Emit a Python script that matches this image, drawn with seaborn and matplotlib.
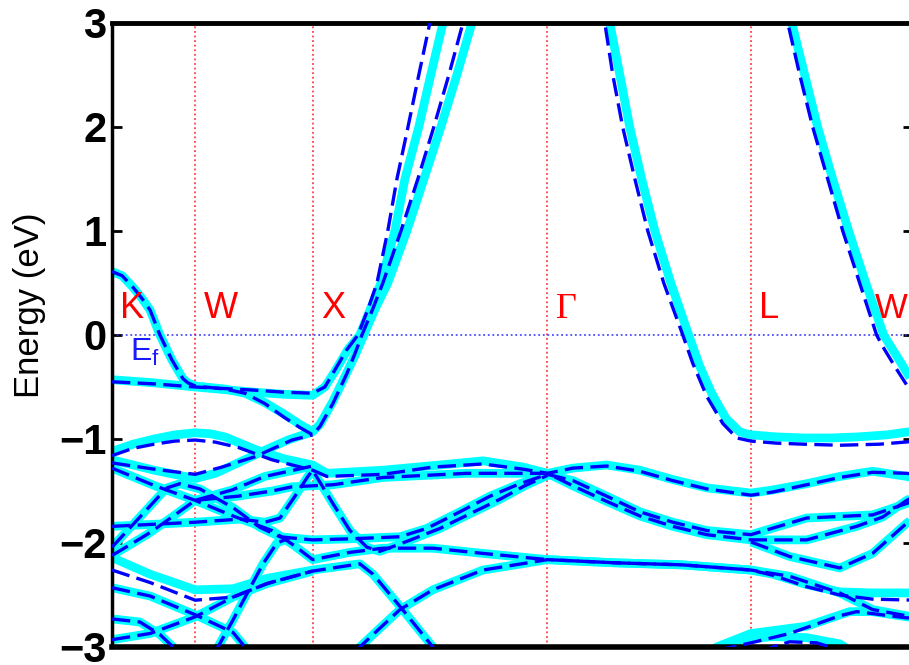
import matplotlib
matplotlib.use("Agg")
import matplotlib.pyplot as plt
import numpy as np
import pandas as pd
import seaborn as sns

sns.set_theme(style="white")
plt.rcParams['font.family'] = ['Liberation Sans', 'DejaVu Sans']

# ---------------- data ----------------
kpoint_names = ['K', 'W', 'X', 'Γ', 'L', 'W']
kpoint_pos = [0.0, 0.354, 0.854, 1.854, 2.720, 3.427]
energy_ticks = [-3, -2, -1, 0, 1, 2, 3]

# thick cyan bands (k in 2pi/a along path, E in eV)
cM_k = [0.000,0.043,0.089,0.128,0.162,0.204,0.255,0.302,0.323,0.354,0.481,0.566,0.651,0.732,0.800,0.854,0.885,0.940,1.000,1.040,1.072,1.120,1.174,1.255,1.328,1.400,1.468,1.532,1.553]
cM_E = [0.61,0.57,0.46,0.35,0.24,0.0,-0.24,-0.42,-0.46,-0.49,-0.52,-0.56,-0.65,-0.76,-0.86,-0.93,-0.86,-0.64,-0.36,-0.17,0.0,0.25,0.5,1.0,1.5,2.0,2.5,3.0,3.2]
cB_k = [0,0.179,0.354,0.604,0.732,0.854,0.906,0.949,1.004,1.055,1.100,1.145,1.204,1.247,1.306,1.357,1.409,1.426]
cB_E = [-0.43,-0.46,-0.50,-0.55,-0.57,-0.58,-0.50,-0.35,-0.14,0.0,0.25,0.5,1.0,1.5,2.0,2.5,3.0,3.2]
cGL_k = [2.102,2.119,2.162,2.204,2.255,2.311,2.379,2.455,2.502,2.553,2.613,2.672,2.700,2.720,2.830,2.945,3.060,3.174,3.300,3.427]
cGL_E = [3.2,3.0,2.5,2.0,1.5,1.0,0.5,0.0,-0.30,-0.56,-0.80,-0.93,-0.95,-0.96,-0.98,-0.99,-0.99,-0.98,-0.96,-0.92]
cLW_k = [2.885,2.894,2.949,3.004,3.068,3.136,3.209,3.285,3.340,3.400,3.427]
cLW_E = [3.2,3.0,2.5,2.0,1.5,1.0,0.5,0.0,-0.20,-0.42,-0.46]
cT_k = [0,0.089,0.179,0.268,0.354,0.420,0.481,0.609,0.732,0.854,0.915,1.153,1.396,1.579,1.749,1.854,1.962,2.106,2.247,2.387,2.532,2.720,2.813,2.957,3.098,3.238,3.383,3.427]
cT_E = [-1.12,-1.05,-1.00,-0.96,-0.94,-0.95,-0.98,-1.10,-1.19,-1.25,-1.33,-1.30,-1.25,-1.21,-1.27,-1.33,-1.28,-1.25,-1.30,-1.39,-1.47,-1.52,-1.49,-1.43,-1.36,-1.31,-1.36,-1.38]
cR_k = [0,0.179,0.354,0.440,0.536,0.649,0.749,0.854]
cR_E = [-1.20,-1.30,-1.38,-1.33,-1.23,-1.11,-1.01,-0.93]
D1_k = [0,0.183,0.354,0.515,0.681,0.779,0.854,1.013,1.153,1.366,1.579,1.854,2.136,2.426,2.720,2.813,2.957,3.098,3.238,3.427]
cD1_E = [-1.28,-1.45,-1.59,-1.74,-1.88,-2.03,-2.16,-2.09,-2.05,-2.05,-2.10,-2.16,-2.19,-2.21,-2.26,-2.30,-2.40,-2.47,-2.48,-2.48]
G2_k = [1.045,1.055,1.140,1.226,1.366,1.579,1.854,2.136,2.426,2.720,2.885,3.098,3.238,3.383,3.427]
G2_E = [-3.05,-3.0,-2.82,-2.64,-2.45,-2.26,-2.16,-2.19,-2.21,-2.26,-2.32,-2.48,-2.64,-2.70,-2.71]
Bot1_k = [0,0.162,0.354,0.515,0.660,0.854,1.055,1.111,1.226,1.366,1.383]
cBot1_E = [-2.14,-2.30,-2.45,-2.44,-2.34,-2.26,-2.20,-2.30,-2.61,-3.0,-3.05]
Bot2_k = [0,0.162,0.354,0.515,0.660,0.854]
Bot2_E = [-2.93,-2.87,-2.71,-2.52,-2.39,-2.27]
Bot3_k = [0,0.162,0.354,0.515,0.566,0.579]
Bot3_E = [-2.43,-2.51,-2.69,-2.86,-3.0,-3.05]
Bot4_k = [0,0.119,0.204,0.260,0.272]
Bot4_E = [-2.73,-2.76,-2.88,-3.0,-3.05]
Bot5_k = [0.438,0.451,0.515,0.574,0.643,0.702,0.757,0.854,1.013,1.226,1.340,1.481,1.609,1.736,1.854,1.962,2.106,2.247,2.387,2.532,2.720,2.957,3.238,3.383,3.427]
Bot5_E = [-3.05,-3.0,-2.74,-2.49,-2.20,-2.00,-1.95,-1.97,-1.96,-1.94,-1.86,-1.70,-1.55,-1.43,-1.34,-1.40,-1.55,-1.70,-1.80,-1.88,-1.92,-1.76,-1.73,-1.62,-1.59]
Q2_k = [0,0.119,0.196,0.234,0.289,0.374,0.515,0.630,0.715,0.757]
Q2_E = [-2.04,-1.75,-1.56,-1.47,-1.43,-1.48,-1.66,-1.85,-1.94,-1.95]
U_k = [0,0.089,0.162,0.268,0.354,0.536,0.681,0.766,0.854,0.940,1.153,1.511,1.854,1.962,2.106,2.247,2.387,2.532,2.720,2.957,3.170,3.281,3.383,3.427]
U_E = [-2.12,-2.00,-1.90,-1.73,-1.59,-1.55,-1.50,-1.46,-1.45,-1.44,-1.37,-1.33,-1.33,-1.45,-1.60,-1.74,-1.84,-1.92,-1.97,-1.97,-1.84,-1.75,-1.59,-1.54]
V_k = [0.354,0.511,0.651,0.854]
V_E = [-1.59,-1.49,-1.36,-1.26]
FQ_k = [0,0.179,0.354,0.545,0.651,0.715,0.779,0.834,0.854,0.940,1.013,1.085,1.140,1.226,1.396,1.523,1.651,1.757,1.854]
FQ_E = [-1.84,-1.82,-1.80,-1.77,-1.80,-1.76,-1.55,-1.36,-1.30,-1.62,-1.88,-2.04,-2.08,-2.01,-1.86,-1.72,-1.58,-1.45,-1.35]
Dip_k = [2.720,2.885,3.098,3.238,3.383,3.427]
Dip_E = [-1.99,-2.13,-2.24,-2.10,-1.81,-1.74]
cBLW_k = [2.545,2.574,2.720,2.957,3.140,3.238,3.383,3.427]
cBLW_E = [-3.05,-3.0,-2.87,-2.80,-2.66,-2.66,-2.71,-2.72]
cBump_k = [2.620,2.672,2.813,2.957,3.098,3.153]
cBump_E = [-3.05,-2.93,-2.90,-2.91,-2.97,-3.05]

# dashed blue bands
dM_k = [0,0.043,0.089,0.128,0.162,0.204,0.255,0.302,0.323,0.354,0.481,0.566,0.651,0.732,0.800,0.854,0.885,0.940,1.000,1.034,1.064,1.110,1.153,1.230,1.302,1.370,1.434,1.494,1.515]
dM_E = [0.61,0.57,0.46,0.35,0.24,0.0,-0.24,-0.42,-0.46,-0.49,-0.52,-0.56,-0.66,-0.79,-0.89,-0.96,-0.88,-0.66,-0.37,-0.18,0.0,0.25,0.5,1.0,1.5,2.0,2.5,3.0,3.2]
dB_k = [0,0.179,0.354,0.604,0.732,0.854,0.906,0.940,1.000,1.047,1.090,1.128,1.174,1.213,1.260,1.306,1.353,1.370]
dB_E = [-0.45,-0.47,-0.50,-0.53,-0.55,-0.56,-0.50,-0.37,-0.14,0.0,0.25,0.5,1.0,1.5,2.0,2.5,3.0,3.2]
dGL_k = [2.081,2.098,2.132,2.174,2.226,2.281,2.349,2.430,2.472,2.532,2.600,2.660,2.700,2.720,2.830,2.945,3.098,3.268,3.427]
dGL_E = [3.2,3.0,2.5,2.0,1.5,1.0,0.5,0.0,-0.27,-0.59,-0.85,-0.99,-1.01,-1.02,-1.04,-1.05,-1.06,-1.05,-1.02]
dLW_k = [2.868,2.877,2.928,2.983,3.047,3.111,3.183,3.255,3.281,3.332,3.383,3.427]
dLW_E = [3.2,3.0,2.5,2.0,1.5,1.0,0.5,0.0,-0.11,-0.30,-0.48,-0.52]
dT_k = [0,0.089,0.179,0.268,0.354,0.440,0.536,0.681,0.854,0.915,1.153,1.366,1.579,1.749,1.854,1.962,2.106,2.247,2.387,2.532,2.720,2.813,2.957,3.098,3.238,3.383,3.427]
dT_E = [-1.16,-1.09,-1.05,-1.02,-1.01,-1.03,-1.08,-1.20,-1.30,-1.36,-1.34,-1.27,-1.24,-1.29,-1.33,-1.28,-1.26,-1.31,-1.40,-1.48,-1.54,-1.51,-1.44,-1.37,-1.32,-1.33,-1.34]
dR_k = [0,0.179,0.354,0.468,0.609,0.766,0.854]
dR_E = [-1.23,-1.29,-1.34,-1.27,-1.17,-1.01,-0.96]
dD1_E = [-1.28,-1.45,-1.59,-1.74,-1.88,-2.03,-2.16,-2.09,-2.05,-2.05,-2.10,-2.16,-2.19,-2.21,-2.26,-2.31,-2.42,-2.50,-2.54,-2.55]
dBot1_E = [-2.26,-2.38,-2.55,-2.52,-2.39,-2.27,-2.20,-2.30,-2.61,-3.0,-3.05]
dBLW_k = [2.587,2.600,2.720,2.885,3.098,3.170,3.383,3.427]
dBLW_E = [-3.05,-3.02,-2.96,-2.87,-2.70,-2.66,-2.72,-2.72]
dBump_k = [2.760,2.813,2.885,3.000,3.098]
dBump_E = [-3.05,-3.0,-2.95,-2.96,-3.03]

cyan_bands = [(cM_k, cM_E), (cB_k, cB_E), (cGL_k, cGL_E), (cLW_k, cLW_E),
              (cT_k, cT_E), (cR_k, cR_E), (D1_k, cD1_E), (G2_k, G2_E),
              (Bot1_k, cBot1_E), (Bot2_k, Bot2_E), (Bot3_k, Bot3_E), (Bot4_k, Bot4_E),
              (Bot5_k, Bot5_E), (Q2_k, Q2_E), (U_k, U_E), (V_k, V_E), (FQ_k, FQ_E),
              (Dip_k, Dip_E), (cBLW_k, cBLW_E), (cBump_k, cBump_E)]
dash_bands = [(dM_k, dM_E), (dB_k, dB_E), (dGL_k, dGL_E), (dLW_k, dLW_E),
              (dT_k, dT_E), (dR_k, dR_E), (D1_k, dD1_E), (G2_k, G2_E),
              (Bot1_k, dBot1_E), (Bot2_k, Bot2_E), (Bot3_k, Bot3_E), (Bot4_k, Bot4_E),
              (Bot5_k, Bot5_E), (Q2_k, Q2_E), (U_k, U_E), (V_k, V_E), (FQ_k, FQ_E),
              (Dip_k, Dip_E), (dBLW_k, dBLW_E), (dBump_k, dBump_E)]


def to_frame(bands):
    rows = []
    for i, (k, e) in enumerate(bands):
        for kk, ee in zip(k, e):
            rows.append((i, kk, ee))
    return pd.DataFrame(rows, columns=['band', 'k', 'E'])


df_c = to_frame(cyan_bands)
df_d = to_frame(dash_bands)

# ---------------- figure ----------------
W, H = 909, 665
fig = plt.figure(figsize=(W / 100, H / 100), dpi=100)
ax = fig.add_axes([112 / W, 18 / H, 801 / W, 624 / H])
ax.set_facecolor('white')

for kp in kpoint_pos[:-1]:
    ax.axvline(kp, color='#ff2020', ls=(0, (1.2, 1.8)), lw=1.1, zorder=1)
ax.axhline(0, color='#3030ff', ls=(0, (1.2, 1.8)), lw=1.1, zorder=1)

sns.lineplot(data=df_c, x='k', y='E', units='band', estimator=None, sort=False,
             color='#00FFFF', lw=6.3, ax=ax, legend=False,
             solid_joinstyle='round', solid_capstyle='butt', zorder=2)
sns.lineplot(data=df_d, x='k', y='E', units='band', estimator=None, sort=False,
             color='#0000FF', lw=2.4, ax=ax, legend=False,
             linestyle=(0, (5.5, 2.2)), dash_capstyle='butt', zorder=3)

ax.set_xlim(0, 3.41)
ax.set_ylim(-3, 3)
ax.set_xticks([])
ax.set_xlabel('')
ax.set_yticks(energy_ticks)
ax.set_yticklabels([f'{t}' if t >= 0 else f'\u2212{-t}' for t in energy_ticks],
                   fontsize=30, fontweight='bold')
ax.tick_params(axis='y', direction='in', length=7, width=2.0, left=True, right=True,
               pad=4, colors='black')
ax.set_ylabel('Energy (eV)', fontsize=25, color='black')
ax.yaxis.set_label_coords(-0.083, 0.548)

for side, lw in [('left', 2.5), ('right', 2.5), ('top', 3.5), ('bottom', 4.0)]:
    ax.spines[side].set_visible(True)
    ax.spines[side].set_color('black')
    ax.spines[side].set_linewidth(lw)

label_x = [p + 0.036 for p in kpoint_pos[:-1]] + [kpoint_pos[-1] - 0.18]
for name, x in zip(kpoint_names, label_x):
    fam = ['Liberation Serif'] if name == 'Γ' else ['Liberation Sans', 'DejaVu Sans']
    ax.text(x, 0.165, name, color='red', fontsize=26 if x < 3.2 else 25, family=fam,
            ha='left', va='baseline', zorder=4)

ax.text(0.075, -0.25, r'$\mathregular{E_f}$', color='#1a1aff', fontsize=23,
        ha='left', va='baseline', zorder=4)

fig.savefig('out.png', dpi=100, facecolor='white')
